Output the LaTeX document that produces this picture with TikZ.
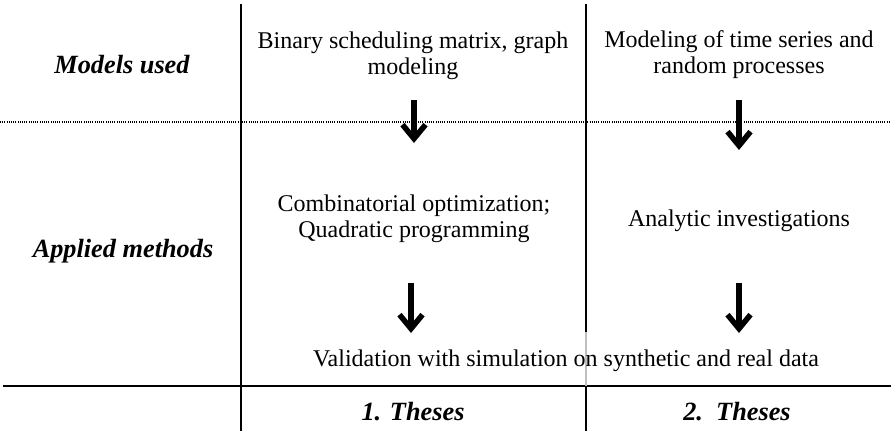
\documentclass[tikz,border=0pt]{standalone}
\usepackage{fontspec}
\setmainfont{Liberation Serif}
\usetikzlibrary{arrows.meta}
\begin{document}
\begin{tikzpicture}[x=1pt,y=-1pt,
  txt/.style={font=\fontsize{24}{25.5}\selectfont, inner sep=0pt, align=center},
  hdr/.style={font=\fontsize{26.3}{28}\selectfont\bfseries\itshape, inner sep=0pt},
  tablerule/.style={line width=1.7pt},
  dotrule/.style={line width=1.2pt, dash pattern=on 1pt off 1.2pt},
  bigarrow/.style={line width=5.5pt, -{Straight Barb[length=14pt,width=23pt]}}]
\useasboundingbox (0,0) rectangle (891,431);
% table rules
\draw[dotrule] (0,122) -- (891,122);
\draw[tablerule] (3,386) -- (891,386);
\draw[tablerule] (241,4) -- (241,431);
\draw[tablerule] (586,4) -- (586,332);
\draw[tablerule, black!25] (586,332) -- (586,386);
\draw[tablerule] (586,386) -- (586,431);
% row headers
\node[hdr, anchor=base] (mu) at (122,73) {Models used};
\node[hdr, anchor=base] (am) at (123,257) {Applied methods};
% column footers
\node[hdr, anchor=base] (t1) at (413,420) {1. Theses};
\node[hdr, anchor=base] (t2) at (737,420) {2.\ \ Theses};
% contents
\node[txt, anchor=base] (bin) at (413,74) {Binary scheduling matrix, graph\\modeling};
\node[txt, anchor=base] (mod) at (739,73) {Modeling of time series and\\random processes};
\node[txt, anchor=base] (comb) at (414,237) {Combinatorial optimization;\\Quadratic programming};
\node[txt, anchor=base] (ana) at (739,226) {Analytic investigations};
\node[txt, anchor=base] (val) at (566,366) {Validation with simulation on synthetic and real data};
% arrows
\coordinate (a1s) at (414,100); \coordinate (a1e) at (414,143);
\coordinate (a2s) at (739,100); \coordinate (a2e) at (739,150);
\coordinate (a3s) at (411,283); \coordinate (a3e) at (411,333);
\coordinate (a4s) at (739,283); \coordinate (a4e) at (739,333);
\draw[bigarrow] (a1s) -- (a1e);
\draw[bigarrow] (a2s) -- (a2e);
\draw[bigarrow] (a3s) -- (a3e);
\draw[bigarrow] (a4s) -- (a4e);
\end{tikzpicture}
\end{document}
